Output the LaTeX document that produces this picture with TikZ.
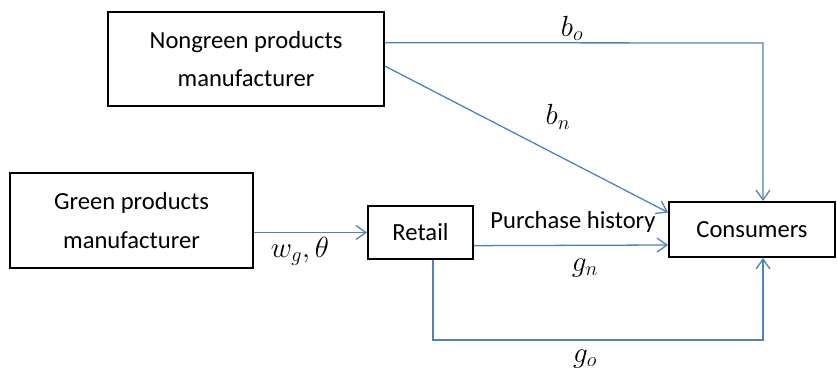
\documentclass[tikz,border=0pt]{standalone}
\usepackage{fontspec}
\setmainfont{Carlito}
\usetikzlibrary{arrows.meta,calc}
\definecolor{linkblue}{RGB}{79,129,189}

\begin{document}
\begin{tikzpicture}
[boxdecorate/.style={shape=rectangle,draw,line width=1.6pt,align=center,inner sep=0pt,%
   font=\fontsize{21}{33}\selectfont},%
  arrowdecorate/.style={-{Straight Barb[length=3mm,width=4.2mm]},draw=linkblue,line width=1.1pt},%
  labeldecorate/.style={font=\fontsize{21}{24}\selectfont,inner sep=1pt},%
  mathdecorate/.style={font=\fontsize{24}{26}\selectfont,inner sep=1pt}]
\useasboundingbox (0,0) rectangle (25.11,11.16);
% nodes or boxes
\node (nongreen) at (7.38,9.39) [boxdecorate,minimum width=8.28cm,minimum height=2.82cm] {Nongreen products\\manufacturer};
\node (green) at (3.945,4.545) [boxdecorate,minimum width=7.29cm,minimum height=2.85cm] {Green products\\manufacturer};
\node (retail) at (12.615,4.185) [boxdecorate,minimum width=3.15cm,minimum height=1.59cm] {Retail};
\node (consumers) at (22.56,4.275) [boxdecorate,minimum width=4.98cm,minimum height=1.65cm] {Consumers};
% corners of the links
\coordinate (bo) at (22.89,9.87);
\coordinate (go) at (12.99,0.96);
% edges or links
\draw[arrowdecorate] ($(nongreen.north east)!0.33!(nongreen.south east)$) -- (bo) -- (bo |- consumers.north);
\draw[arrowdecorate] ($(nongreen.north east)!0.574!(nongreen.south east)$) -- ($(consumers.north west)!0.2!(consumers.south west)$);
\draw[arrowdecorate] (green.east |- retail.west) -- (retail.west);
\draw[arrowdecorate] ($(retail.north east)!0.74!(retail.south east)$) -- (consumers.west |- 0,3.81);
\draw[arrowdecorate] (retail.south -| go) -- (go) -- (go -| bo) -- (bo |- consumers.south);
% labels
\node (bolabel) at (17.16,10.3) [mathdecorate] {$b_o$};
\node (bnlabel) at (16.74,7.65) [mathdecorate] {$b_n$};
\node (wglabel) at (9.0,3.62) [mathdecorate] {$w_g,\theta$};
\node (historylabel) at (17.19,4.5) [labeldecorate] {Purchase history};
\node (gnlabel) at (17.55,3.12) [mathdecorate] {$g_n$};
\node (golabel) at (17.55,0.4) [mathdecorate] {$g_o$};
\end{tikzpicture}
\end{document}
